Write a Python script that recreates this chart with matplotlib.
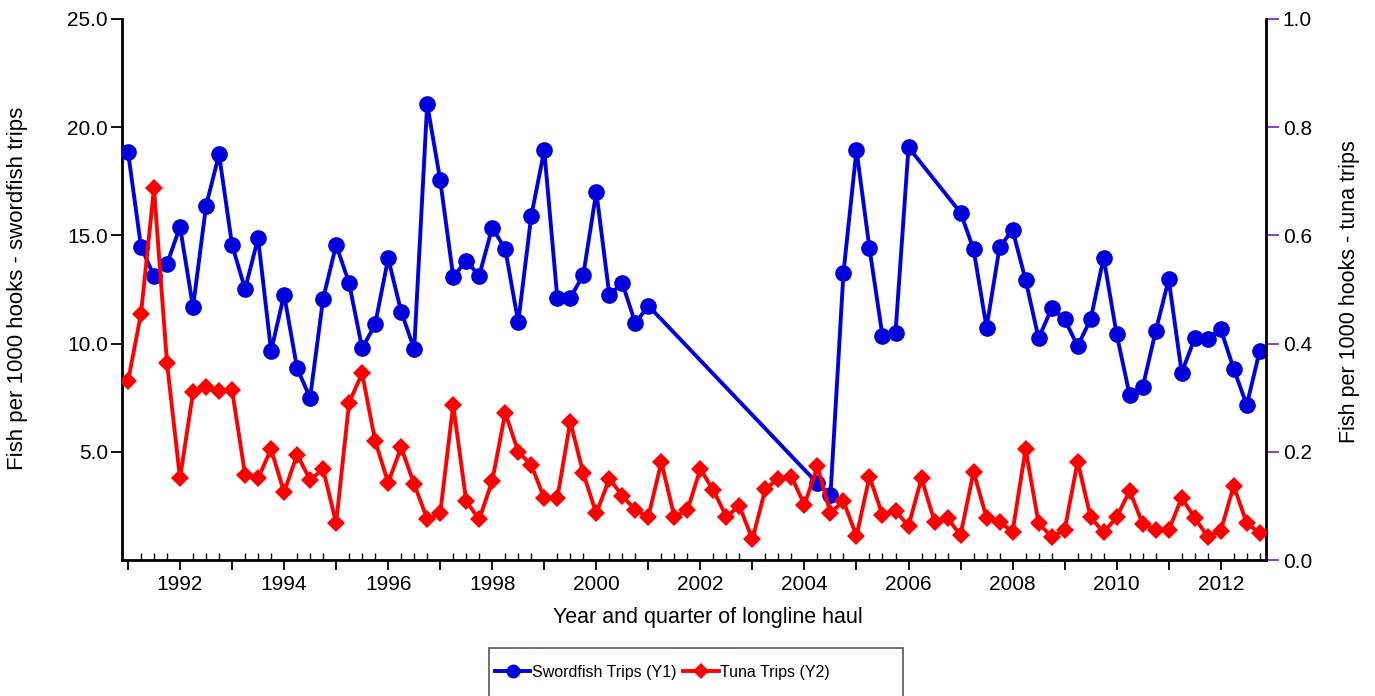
import numpy as np
import matplotlib
matplotlib.use("Agg")
import matplotlib.pyplot as plt
from matplotlib.ticker import MultipleLocator, FixedLocator, FuncFormatter
from matplotlib.lines import Line2D
from matplotlib.patches import Rectangle

plt.rcParams['font.family'] = ['Liberation Sans', 'DejaVu Sans']

# ---- data: quarterly series, 1991 Q1 .. 2012 Q4 ----
start_year = 1991
n_quarters = 88
nan = np.nan

swordfish = [
    18.87, 14.48, 13.12, 13.68, 15.40, 11.68, 16.36, 18.75,
    14.56, 12.52, 14.87, 9.66, 12.26, 8.86, 7.50, 12.07,
    14.56, 12.79, 9.78, 10.89, 13.94, 11.48, 9.75, 21.07,
    17.56, 13.09, 13.82, 13.14, 15.36, 14.37, 10.98, 15.90,
    18.93, 12.12, 12.12, 13.17, 17.02, 12.25, 12.79, 10.94,
    11.75, nan, nan, nan, nan, nan, nan, nan,
    nan, nan, nan, nan, nan, 3.54, 3.00, 13.28,
    18.95, 14.40, 10.35, 10.50, 19.07, nan, nan, nan,
    16.05, 14.36, 10.74, 14.46, 15.25, 12.94, 10.24, 11.63,
    11.12, 9.89, 11.12, 13.97, 10.43, 7.62, 7.98, 10.58,
    12.97, 8.66, 10.24, 10.20, 10.67, 8.83, 7.16, 9.67,
]

tuna = [
    0.330, 0.455, 0.687, 0.364, 0.151, 0.310, 0.319, 0.312,
    0.314, 0.158, 0.151, 0.205, 0.125, 0.195, 0.148, 0.168,
    0.068, 0.291, 0.345, 0.220, 0.143, 0.208, 0.140, 0.076,
    0.086, 0.287, 0.109, 0.075, 0.146, 0.272, 0.200, 0.176,
    0.114, 0.114, 0.256, 0.160, 0.086, 0.150, 0.119, 0.092,
    0.080, 0.181, 0.080, 0.092, 0.168, 0.129, 0.080, 0.100,
    0.038, 0.132, 0.150, 0.154, 0.102, 0.173, 0.087, 0.109,
    0.044, 0.154, 0.083, 0.091, 0.063, 0.151, 0.071, 0.077,
    0.046, 0.163, 0.078, 0.071, 0.052, 0.205, 0.068, 0.043,
    0.055, 0.182, 0.079, 0.051, 0.079, 0.128, 0.067, 0.055,
    0.055, 0.115, 0.078, 0.043, 0.054, 0.137, 0.068, 0.050,
]

left_ticks = [5, 10, 15, 20, 25]
right_ticks = [0.0, 0.2, 0.4, 0.6, 0.8, 1.0]
series_labels = ["Swordfish Trips (Y1)", "Tuna Trips (Y2)"]

# ---- figure ----
BLUE = '#0000DC'
RED = '#FF0000'
PURPLE = '#8A2BC8'
FS = 15

t = start_year + np.arange(n_quarters) / 4.0
sw = np.array(swordfish, dtype=float)
tu = np.array(tuna, dtype=float)
m = np.isfinite(sw)

fig = plt.figure(figsize=(13.75, 6.96), dpi=100)
ax = fig.add_axes([122/1375, 1-560/696, (1266-122)/1375, (560-19)/696])
ax2 = ax.twinx()

ax.plot(t[m], sw[m], '-o', color=BLUE, lw=2.8, ms=12, mew=0, zorder=3)
ax2.plot(t, tu, '-D', color=RED, lw=2.8, ms=9.5, mew=0, zorder=3)

ax.set_xlim(1990.885, 2012.87)
ax.set_ylim(0, 25)
ax2.set_ylim(0, 1.0)

# x ticks
ax.xaxis.set_major_locator(MultipleLocator(1))
ax.xaxis.set_minor_locator(MultipleLocator(0.25))
ax.xaxis.set_major_formatter(FuncFormatter(lambda v, p: f"{int(round(v))}" if int(round(v)) % 2 == 0 else ""))
ax.tick_params(axis='x', which='major', direction='out', length=7, width=1.3, labelsize=FS, pad=4)
ax.tick_params(axis='x', which='minor', direction='in', length=5, width=1.0)

# left y
ax.yaxis.set_major_locator(FixedLocator(left_ticks))
ax.yaxis.set_major_formatter(FuncFormatter(lambda v, p: f"{v:.1f}"))
ax.tick_params(axis='y', which='major', direction='out', length=8, width=1.3, labelsize=FS, pad=2)

# right y
ax2.yaxis.set_major_locator(FixedLocator(right_ticks))
ax2.yaxis.set_major_formatter(FuncFormatter(lambda v, p: f"{v:.1f}"))
ax2.tick_params(axis='y', which='major', direction='out', length=9, width=1.3, labelsize=FS,
                color=PURPLE, labelcolor='black', pad=3)

for a in (ax, ax2):
    a.spines['top'].set_visible(False)
ax.spines['right'].set_visible(False)
ax2.spines['left'].set_visible(False)
ax2.spines['bottom'].set_visible(False)
ax.spines['left'].set_linewidth(2.0)
ax.spines['bottom'].set_linewidth(2.0)
ax2.spines['right'].set_linewidth(2.0)

fig.text(18/1375, 1-288/696, "Fish per 1000 hooks - swordfish trips", rotation=90,
         ha='center', va='center', fontsize=16)
fig.text(1350/1375, 1-292/696, "Fish per 1000 hooks - tuna trips", rotation=90,
         ha='center', va='center', fontsize=15.5)
fig.text(708/1375, 1-618/696, "Year and quarter of longline haul",
         ha='center', va='center', fontsize=15.5)

# legend
handles = [
    Line2D([], [], color=BLUE, lw=2.8, marker='o', ms=10, mew=0),
    Line2D([], [], color=RED, lw=2.8, marker='D', ms=8.5, mew=0),
]
fig.legend(handles, series_labels, loc='center left',
           bbox_to_anchor=(495/1375, 1-672/696), ncol=2, frameon=False,
           fontsize=11.5, handlelength=2.2, handletextpad=0.1, columnspacing=0.45,
           borderpad=0, borderaxespad=0)
fig.patches.append(Rectangle((489/1375, -0.02), 414/1375, (696-648)/696 + 0.02,
                             transform=fig.transFigure, fill=False,
                             edgecolor='#555555', lw=1.2))

fig.savefig("out.png", dpi=100)
